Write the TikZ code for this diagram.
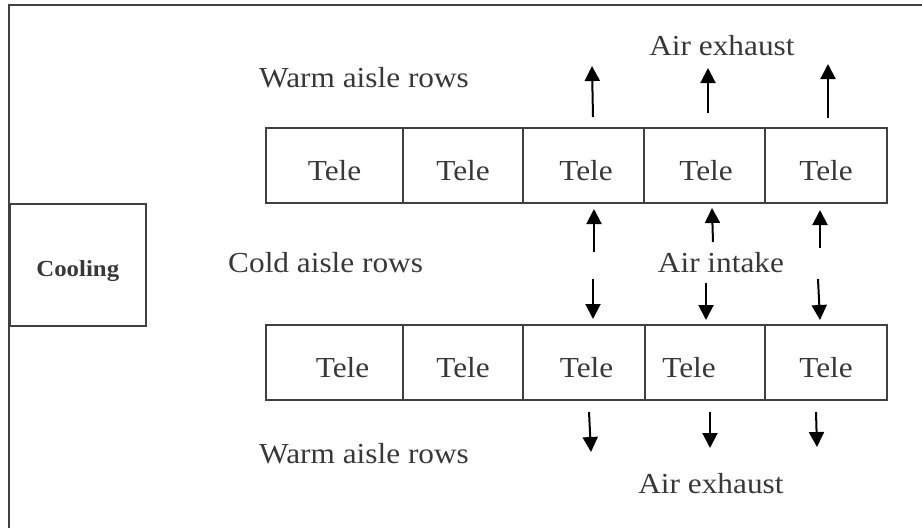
\documentclass[tikz,border=0pt]{standalone}
\usepackage{fontspec}
\setmainfont{Liberation Serif}[FakeStretch=1.08]
\usepackage{xcolor}
\usepackage{tikz}
\usetikzlibrary{positioning, arrows.meta}
\definecolor{linegray}{RGB}{64, 64, 64}
\definecolor{textgray}{RGB}{56, 56, 56}

\begin{document}
\begin{tikzpicture}[x=1pt, y=-1pt,
        cell/.style={rectangle, draw=linegray, line width=1.6pt, minimum height=75pt, inner sep=0pt, outer sep=0pt, text=textgray, text height=29pt, text depth=0pt, font=\fontsize{29}{34}\selectfont},
        tag/.style={text=textgray, inner sep=0pt, font=\fontsize{29}{34}\selectfont},
        flow/.style={-{Triangle[length=15pt, width=15pt]}, line width=2pt, black}
    ]
        \useasboundingbox (0,0) rectangle (922,528);
        \draw[linegray, line width=1.6pt] (9,528) |- (922,5);

        \node (cooling) [rectangle, draw=linegray, line width=1.6pt, minimum width=136pt, minimum height=122pt, inner sep=0pt, text=textgray, text height=24pt, text depth=0pt, font=\fontsize{23}{28}\selectfont\bfseries, anchor=north west] at (9,203) {Cooling};

        % upper row of racks
        \node (upA) [cell, minimum width=137pt, anchor=north west] at (266,128) {Tele};
        \node (upB) [cell, minimum width=120pt, right=0pt of upA] {Tele};
        \node (upC) [cell, minimum width=121pt, right=0pt of upB] {\hspace{5pt}Tele};
        \node (upD) [cell, minimum width=121pt, right=0pt of upC] {\hspace{3pt}Tele};
        \node (upE) [cell, minimum width=122pt, right=0pt of upD] {Tele};

        % lower row of racks
        \node (loA) [cell, minimum width=137pt, anchor=north west] at (266,325) {\hspace{16pt}Tele};
        \node (loB) [cell, minimum width=120pt, right=0pt of loA] {Tele};
        \node (loC) [cell, minimum width=122pt, right=0pt of loB] {\hspace{5pt}Tele};
        \node (loD) [cell, minimum width=120pt, right=0pt of loC] {Tele\kern32pt\relax};
        \node (loE) [cell, minimum width=122pt, right=0pt of loD] {Tele};

        \node (warmtop) [tag, anchor=base west] at (259,87) {Warm aisle rows};
        \node (cold) [tag, anchor=base west] at (228,272) {Cold aisle rows};
        \node (warmbot) [tag, anchor=base west] at (259,463) {Warm aisle rows};
        \node (exhtop) [tag, anchor=base] at (722,55) {Air exhaust};
        \node (intake) [tag, anchor=base] at (721,272) {Air intake};
        \node (exhbot) [tag, anchor=base] at (711,493) {Air exhaust};

        % air flow
        \foreach \xa/\ya/\xb/\yb in {593/117/592/66, 708/113/708/68, 828/118/828/64,
                594/252/594/209, 713/242/712/208, 820/248/820/210,
                593/279/593/319, 706/283/706/320, 818/279/820/320,
                589/412/591/452, 710/412/710/448, 816/412/817/447}
            \draw[flow] (\xa,\ya) -- (\xb,\yb);
    \end{tikzpicture}
\end{document}
